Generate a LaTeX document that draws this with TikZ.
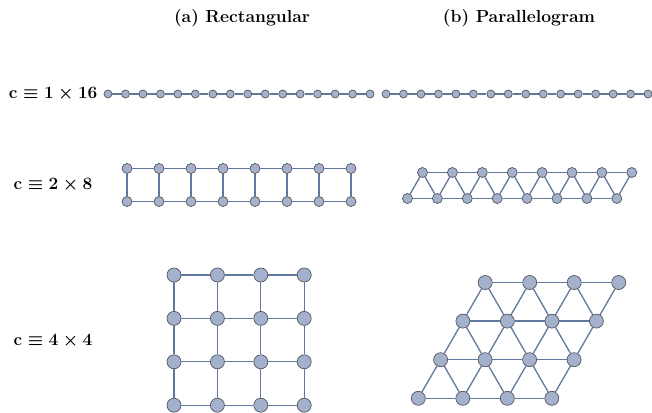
\documentclass[tikz,border=0pt]{standalone}
\definecolor{vfill}{RGB}{163,177,204}
\definecolor{vdraw}{RGB}{85,85,95}
\definecolor{ecol}{RGB}{96,120,158}
\begin{document}
\begin{tikzpicture}[x=1pt,y=-1pt,
  v/.style={circle,fill=vfill,draw=vdraw,line width=0.7pt,inner sep=0pt,minimum size=#1},
  e/.style={draw=ecol,line width=1.3pt},
  ttl/.style={font=\fontsize{17.5}{20}\selectfont\bfseries},
  lab/.style={font=\fontsize{17.5}{20}\selectfont\boldmath,anchor=east}]
\useasboundingbox (0,0) rectangle (652,412);
% titles
\node[ttl] (ta) at (242,18) {(a) Rectangular};
\node[ttl] (tb) at (519,18) {(b) Parallelogram};
% row labels
\node[lab] (l1) at (101,94) {$\mathbf{c}\equiv\mathbf{1}\times\mathbf{16}$};
\node[lab] (l2) at (96,185) {$\mathbf{c}\equiv\mathbf{2}\times\mathbf{8}$};
\node[lab] (l3) at (96,341) {$\mathbf{c}\equiv\mathbf{4}\times\mathbf{4}$};
% row 1 chains
\foreach \i in {1,...,16}{
  \node[v=8pt] (a1-\i) at ({108+(\i-1)*17.47},94) {};
  \node[v=8pt] (b1-\i) at ({386+(\i-1)*17.47},94) {};
}
\foreach \i [evaluate=\i as \j using int(\i+1)] in {1,...,15}{
  \draw[e] (a1-\i) -- (a1-\j);
  \draw[e] (b1-\i) -- (b1-\j);
}
% row 2 rectangular ladder
\foreach \i in {1,...,8}{
  \node[v=10pt] (a2t-\i) at ({127+(\i-1)*32},168.5) {};
  \node[v=10pt] (a2b-\i) at ({127+(\i-1)*32},201.5) {};
  \draw[e] (a2t-\i) -- (a2b-\i);
}
\foreach \i [evaluate=\i as \j using int(\i+1)] in {1,...,7}{
  \draw[e] (a2t-\i) -- (a2t-\j);
  \draw[e] (a2b-\i) -- (a2b-\j);
}
% row 2 parallelogram strip
\foreach \i in {1,...,8}{
  \node[v=10pt] (b2t-\i) at ({422.5+(\i-1)*29.9},172.5) {};
  \node[v=10pt] (b2b-\i) at ({407.5+(\i-1)*29.9},198.5) {};
  \draw[e] (b2b-\i) -- (b2t-\i);
}
\foreach \i [evaluate=\i as \j using int(\i+1)] in {1,...,7}{
  \draw[e] (b2t-\i) -- (b2t-\j);
  \draw[e] (b2b-\i) -- (b2b-\j);
  \draw[e] (b2t-\i) -- (b2b-\j);
}
% row 3 rectangular grid
\foreach \r in {0,...,3}{
  \foreach \i in {0,...,3}{
    \node[v=14pt] (a3-\r-\i) at ({174+\i*43.4},{275+\r*43.4}) {};
  }
}
\foreach \r in {0,...,3}{
  \foreach \i [evaluate=\i as \j using int(\i+1)] in {0,...,2}{
    \draw[e] (a3-\r-\i) -- (a3-\r-\j);
    \draw[e] (a3-\i-\r) -- (a3-\j-\r);
  }
}
% row 3 triangular parallelogram (k = row from bottom)
\foreach \k in {0,...,3}{
  \foreach \i in {0,...,3}{
    \node[v=14pt] (b3-\k-\i) at ({418.3+\k*22.3+\i*44.5},{398.3-\k*38.6}) {};
  }
}
\foreach \k in {0,...,3}{
  \foreach \i [evaluate=\i as \j using int(\i+1)] in {0,...,2}{
    \draw[e] (b3-\k-\i) -- (b3-\k-\j);
  }
}
\foreach \k [evaluate=\k as \m using int(\k+1)] in {0,...,2}{
  \foreach \i in {0,...,3}{
    \draw[e] (b3-\k-\i) -- (b3-\m-\i);
  }
  \foreach \i [evaluate=\i as \j using int(\i+1)] in {0,...,2}{
    \draw[e] (b3-\m-\i) -- (b3-\k-\j);
  }
}
\end{tikzpicture}
\end{document}
